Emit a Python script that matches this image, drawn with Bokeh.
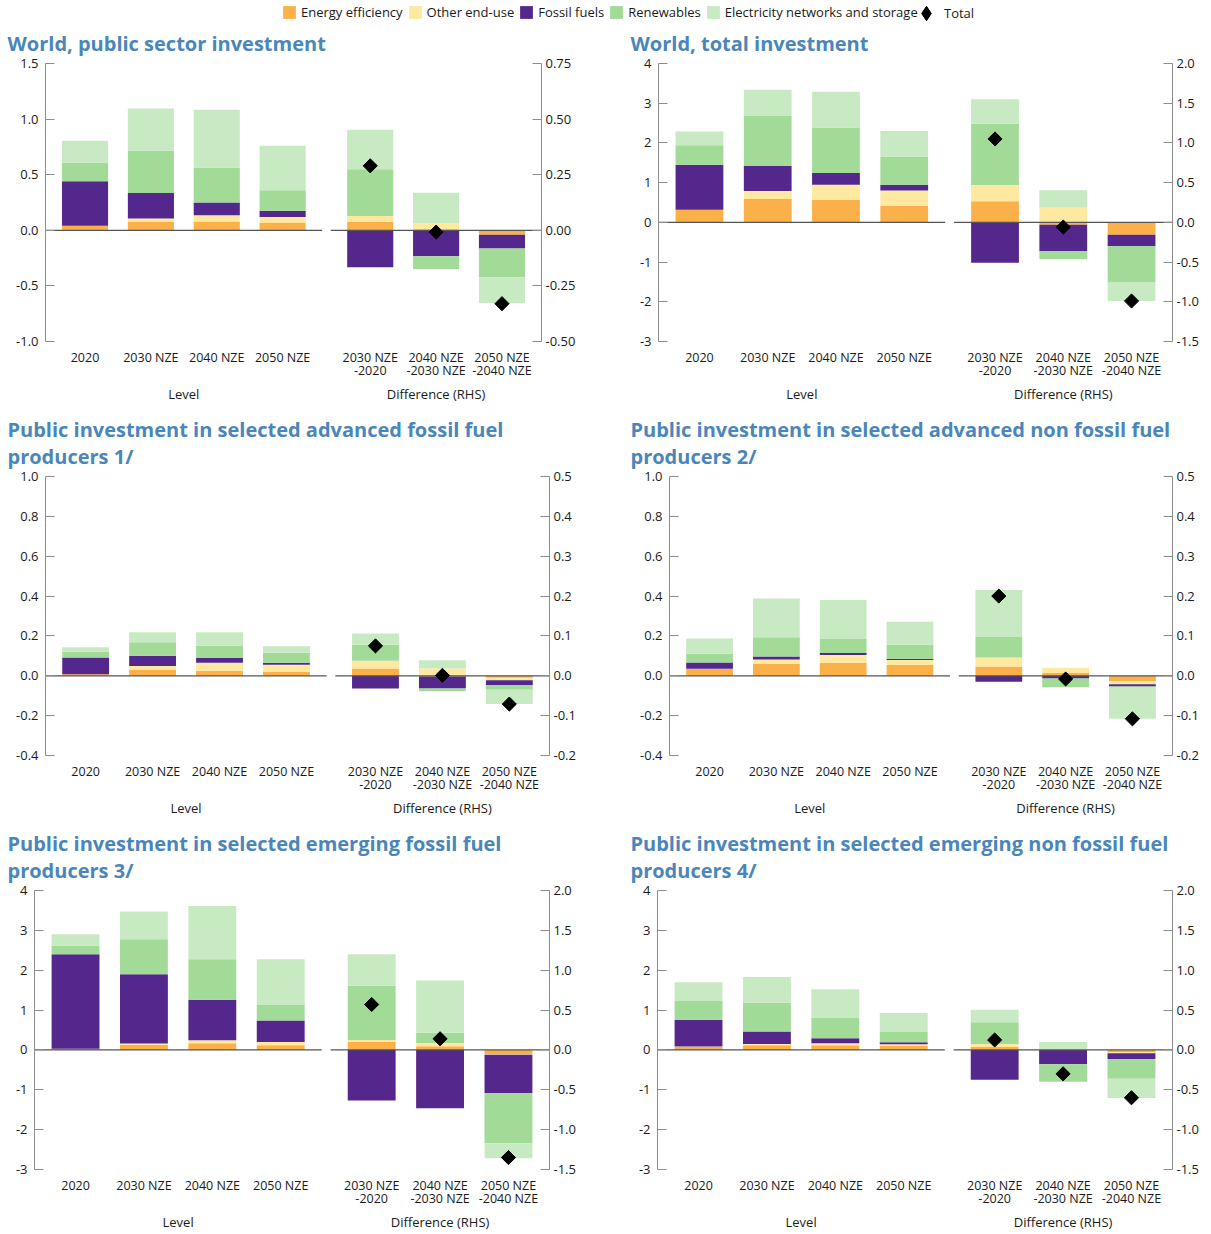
import numpy as np
from bokeh.plotting import figure
from bokeh.models import (Range1d, LinearAxis, FixedTicker, Title, Legend, LegendItem,
                          NumeralTickFormatter)
from bokeh.layouts import column, row
from bokeh.embed import file_html
from bokeh.resources import INLINE

# ---------------- data ----------------
LEVEL_LABELS = ["2020", "2030 NZE", "2040 NZE", "2050 NZE"]
DIFF_LABELS = ["2030 NZE\n-2020", "2040 NZE\n-2030 NZE", "2050 NZE\n-2040 NZE"]
GROUP_LABELS = ["Level", "Difference (RHS)"]
SERIES = ["Energy efficiency", "Other end-use", "Fossil fuels", "Renewables",
          "Electricity networks and storage"]
TOTAL_LABEL = "Total"

# each series: 4 level values (LHS) followed by 3 differences (RHS)
# Panel 1: World, public sector investment
P1_EE = [0.04, 0.08, 0.08, 0.07, 0.039, 0.005, -0.02]
P1_OEU = [0.0, 0.025, 0.055, 0.05, 0.025, 0.027, 0.0]
P1_FF = [0.40, 0.23, 0.115, 0.055, -0.166, -0.117, -0.062]
P1_REN = [0.17, 0.38, 0.315, 0.185, 0.21, -0.057, -0.129]
P1_NET = [0.195, 0.38, 0.52, 0.40, 0.178, 0.137, -0.116]
P1_TOTAL = [0.29, -0.008, -0.33]

# Panel 2: World, total investment
P2_EE = [0.32, 0.59, 0.56, 0.41, 0.265, -0.03, -0.155]
P2_OEU = [0.0, 0.20, 0.39, 0.39, 0.205, 0.185, 0.0]
P2_FF = [1.13, 0.63, 0.29, 0.15, -0.51, -0.33, -0.145]
P2_REN = [0.49, 1.26, 1.15, 0.71, 0.77, -0.105, -0.45]
P2_NET = [0.35, 0.66, 0.90, 0.64, 0.31, 0.22, -0.24]
P2_TOTAL = [1.05, -0.06, -0.99]

# Panel 3: advanced fossil fuel producers
P3_EE = [0.008, 0.029, 0.025, 0.02, 0.018, -0.002, -0.005]
P3_OEU = [0.0, 0.02, 0.041, 0.035, 0.02, 0.018, -0.006]
P3_FF = [0.084, 0.051, 0.023, 0.011, -0.032, -0.03, -0.012]
P3_REN = [0.029, 0.068, 0.062, 0.05, 0.04, -0.007, -0.012]
P3_NET = [0.022, 0.05, 0.067, 0.032, 0.028, 0.021, -0.036]
P3_TOTAL = [0.075, 0.001, -0.071]

# Panel 4: advanced non fossil fuel producers
P4_EE = [0.035, 0.059, 0.066, 0.054, 0.023, 0.007, -0.014]
P4_OEU = [0.0, 0.023, 0.038, 0.025, 0.023, 0.013, -0.007]
P4_FF = [0.032, 0.015, 0.01, 0.007, -0.015, -0.007, -0.006]
P4_REN = [0.044, 0.096, 0.071, 0.07, 0.051, -0.022, -0.001]
P4_NET = [0.076, 0.195, 0.195, 0.115, 0.118, 0.0, -0.08]
P4_TOTAL = [0.2, -0.008, -0.108]

# Panel 5: emerging fossil fuel producers
P5_EE = [0.03, 0.125, 0.167, 0.117, 0.104, 0.046, -0.054]
P5_OEU = [0.0, 0.035, 0.073, 0.083, 0.021, 0.042, -0.006]
P5_FF = [2.37, 1.74, 1.02, 0.54, -0.633, -0.733, -0.48]
P5_REN = [0.22, 0.88, 1.015, 0.385, 0.679, 0.129, -0.63]
P5_NET = [0.28, 0.695, 1.335, 1.15, 0.396, 0.654, -0.19]
P5_TOTAL = [0.57, 0.14, -1.35]

# Panel 6: emerging non fossil fuel producers
P6_EE = [0.075, 0.117, 0.117, 0.10, 0.0375, 0.0, -0.033]
P6_OEU = [0.01, 0.033, 0.05, 0.04, 0.0375, 0.008, -0.01]
P6_FF = [0.675, 0.31, 0.123, 0.05, -0.375, -0.18, -0.07]
P6_REN = [0.465, 0.73, 0.51, 0.26, 0.271, -0.22, -0.25]
P6_NET = [0.475, 0.64, 0.725, 0.475, 0.158, 0.09, -0.24]
P6_TOTAL = [0.125, -0.30, -0.60]

TICKS_A_L = [-1.0, -0.5, 0.0, 0.5, 1.0, 1.5]
TICKS_A_R = [-0.5, -0.25, 0.0, 0.25, 0.5, 0.75]
TICKS_B_L = [-3, -2, -1, 0, 1, 2, 3, 4]
TICKS_B_R = [-1.5, -1.0, -0.5, 0.0, 0.5, 1.0, 1.5, 2.0]
TICKS_C_L = [-0.4, -0.2, 0.0, 0.2, 0.4, 0.6, 0.8, 1.0]
TICKS_C_R = [-0.2, -0.1, 0.0, 0.1, 0.2, 0.3, 0.4, 0.5]

# ---------------- style ----------------
COLORS = ["#FBB04A", "#FFE9A0", "#53278B", "#A2DA98", "#C8EAC2"]
TITLE_COLOR = "#4A86BA"
FONT = "Open Sans"
TEXT_COLOR = "#1a1a1a"
AXIS_COLOR = "#8c8c8c"

LEVEL_POS = [0, 100, 200, 300]
DIFF_POS = [433, 533, 633]
X_START, X_END = -60, 693
BAR_W = 70


def stack(series):
    arr = np.array(series, dtype=float)
    pos = np.where(arr > 0, arr, 0.0)
    neg = np.where(arr < 0, arr, 0.0)
    pos_top = np.cumsum(pos, axis=0)
    pos_bot = pos_top - pos
    neg_bot = np.cumsum(neg, axis=0)
    neg_top = neg_bot - neg
    bottom = np.where(arr >= 0, pos_bot, neg_top)
    top = np.where(arr >= 0, pos_top, neg_bot)
    return bottom, top


def make_panel(title_text, series, total, lrange, rrange, lticks, rticks, lfmt, rfmt,
               border_left, frame_w, border_right, border_top, frame_h, title_x):
    p = figure(frame_width=frame_w, frame_height=frame_h,
               x_range=Range1d(X_START, X_END), y_range=Range1d(*lrange),
               output_backend="svg", toolbar_location=None,
               x_axis_location=None, y_axis_location=None,
               min_border_left=border_left, min_border_right=border_right,
               min_border_top=border_top, min_border_bottom=64)
    p.extra_y_ranges = {"rhs": Range1d(*rrange)}
    p.grid.visible = False
    p.outline_line_color = None

    bottom, top = stack(series)
    n = len(LEVEL_POS)
    for i, color in enumerate(COLORS):
        p.vbar(x=LEVEL_POS, bottom=bottom[i, :n], top=top[i, :n], width=BAR_W,
               fill_color=color, line_color=None)
        p.vbar(x=DIFF_POS, bottom=bottom[i, n:], top=top[i, n:], width=BAR_W,
               fill_color=color, line_color=None, y_range_name="rhs")

    # zero lines (level block and difference block)
    p.segment(x0=[LEVEL_POS[0] - 60, DIFF_POS[0] - 60],
              x1=[LEVEL_POS[-1] + 60, DIFF_POS[-1] + 60],
              y0=[0, 0], y1=[0, 0], line_color="#555555", line_width=1.3)

    p.scatter(x=DIFF_POS, y=total, marker="square", angle=np.pi / 4, size=10,
              fill_color="black", line_color="black", y_range_name="rhs")

    def yaxis(**kw):
        ax = LinearAxis(**kw)
        ax.major_tick_in = 9
        ax.major_tick_out = 0
        ax.minor_tick_line_color = None
        ax.axis_line_color = AXIS_COLOR
        ax.major_tick_line_color = AXIS_COLOR
        ax.major_label_text_font = FONT
        ax.major_label_text_font_size = "13px"
        ax.major_label_text_color = TEXT_COLOR
        return ax

    la = yaxis(ticker=FixedTicker(ticks=lticks), formatter=NumeralTickFormatter(format=lfmt))
    la.major_label_standoff = 7
    p.add_layout(la, "left")
    ra = yaxis(y_range_name="rhs", ticker=FixedTicker(ticks=rticks),
               formatter=NumeralTickFormatter(format=rfmt))
    ra.major_label_standoff = 4
    p.add_layout(ra, "right")

    cat_ax = LinearAxis(ticker=FixedTicker(ticks=LEVEL_POS + DIFF_POS),
                        major_label_overrides=dict(zip(LEVEL_POS + DIFF_POS,
                                                       LEVEL_LABELS + DIFF_LABELS)))
    grp_pos = [(LEVEL_POS[0] + LEVEL_POS[-1]) // 2, DIFF_POS[1]]
    grp_ax = LinearAxis(ticker=FixedTicker(ticks=grp_pos),
                        major_label_overrides=dict(zip(grp_pos, GROUP_LABELS)))
    for ax, fs, so in ((cat_ax, "12.5px", 7), (grp_ax, "13px", 2)):
        ax.axis_line_color = None
        ax.major_tick_line_color = None
        ax.minor_tick_line_color = None
        ax.major_tick_in = 0
        ax.major_tick_out = 0
        ax.major_label_standoff = so
        ax.major_label_text_font = FONT
        ax.major_label_text_font_size = fs
        ax.major_label_text_color = TEXT_COLOR
        ax.major_label_text_line_height = 0.82
        p.add_layout(ax, "below")

    t = Title(text=title_text, align="left", text_font=FONT, text_font_size="20px",
              text_font_style="bold", text_color=TITLE_COLOR, text_line_height=1.0,
              offset=title_x - border_left, standoff=13)
    p.add_layout(t, "above")
    return p


p1 = make_panel("World, public sector investment",
                [P1_EE, P1_OEU, P1_FF, P1_REN, P1_NET], P1_TOTAL,
                (-1.0, 1.5), (-0.5, 0.75), TICKS_A_L, TICKS_A_R, "0.0", "0.00",
                45, 496, 79, 40, 278, 7)
p2 = make_panel("World, total investment",
                [P2_EE, P2_OEU, P2_FF, P2_REN, P2_NET], P2_TOTAL,
                (-3, 4), (-1.5, 2.0), TICKS_B_L, TICKS_B_R, "0", "0.0",
                38, 514, 39, 40, 278, 10)
p3 = make_panel("Public investment in selected advanced fossil fuel\nproducers 1/",
                [P3_EE, P3_OEU, P3_FF, P3_REN, P3_NET], P3_TOTAL,
                (-0.4, 1.0), (-0.2, 0.5), TICKS_C_L, TICKS_C_R, "0.0", "0.0",
                45, 504, 71, 71, 279, 7)
p4 = make_panel("Public investment in selected advanced non fossil fuel\nproducers 2/",
                [P4_EE, P4_OEU, P4_FF, P4_REN, P4_NET], P4_TOTAL,
                (-0.4, 1.0), (-0.2, 0.5), TICKS_C_L, TICKS_C_R, "0.0", "0.0",
                49, 503, 39, 71, 279, 10)
p5 = make_panel("Public investment in selected emerging fossil fuel\nproducers 3/",
                [P5_EE, P5_OEU, P5_FF, P5_REN, P5_NET], P5_TOTAL,
                (-3, 4), (-1.5, 2.0), TICKS_B_L, TICKS_B_R, "0", "0.0",
                34, 515, 71, 71, 279, 7)
p6 = make_panel("Public investment in selected emerging non fossil fuel\nproducers 4/",
                [P6_EE, P6_OEU, P6_FF, P6_REN, P6_NET], P6_TOTAL,
                (-3, 4), (-1.5, 2.0), TICKS_B_L, TICKS_B_R, "0", "0.0",
                37, 515, 39, 71, 279, 10)

# ---------------- legend ----------------
lf = figure(width=1211, height=21, x_range=Range1d(0, 1), y_range=Range1d(0, 1),
            output_backend="svg", toolbar_location=None, min_border=0,
            x_axis_location=None, y_axis_location=None)
lf.grid.visible = False
lf.outline_line_color = None
items = []
# legend-only renderers: their single point lies outside the visible range
for name, color in zip(SERIES, COLORS):
    r = lf.vbar(x=[-5], top=[0], width=0.1, fill_color=color, line_color=None)
    items.append(LegendItem(label=name, renderers=[r]))
leg = Legend(items=items, orientation="horizontal", location=(281, 0),
             glyph_width=16, glyph_height=16, label_height=16, label_standoff=4,
             spacing=4, padding=0, margin=0, border_line_color=None,
             background_fill_alpha=0, label_text_font=FONT,
             label_text_font_size="13px", label_text_color=TEXT_COLOR)
lf.add_layout(leg, "center")

r_tot = lf.scatter(x=[-5], y=[-5], marker="diamond", size=10,
                   fill_color="black", line_color="black")
leg2 = Legend(items=[LegendItem(label=TOTAL_LABEL, renderers=[r_tot])],
              orientation="horizontal", location=(908, -10),
              glyph_width=36, glyph_height=36, label_height=16, label_standoff=0,
              spacing=0, padding=0, margin=0, border_line_color=None,
              background_fill_alpha=0, label_text_font=FONT,
              label_text_font_size="13px", label_text_color=TEXT_COLOR)
lf.add_layout(leg2, "center")

layout = column(lf, row(p1, p2), row(p3, p4), row(p5, p6))
open("out.html", "w").write(file_html(layout, INLINE))
